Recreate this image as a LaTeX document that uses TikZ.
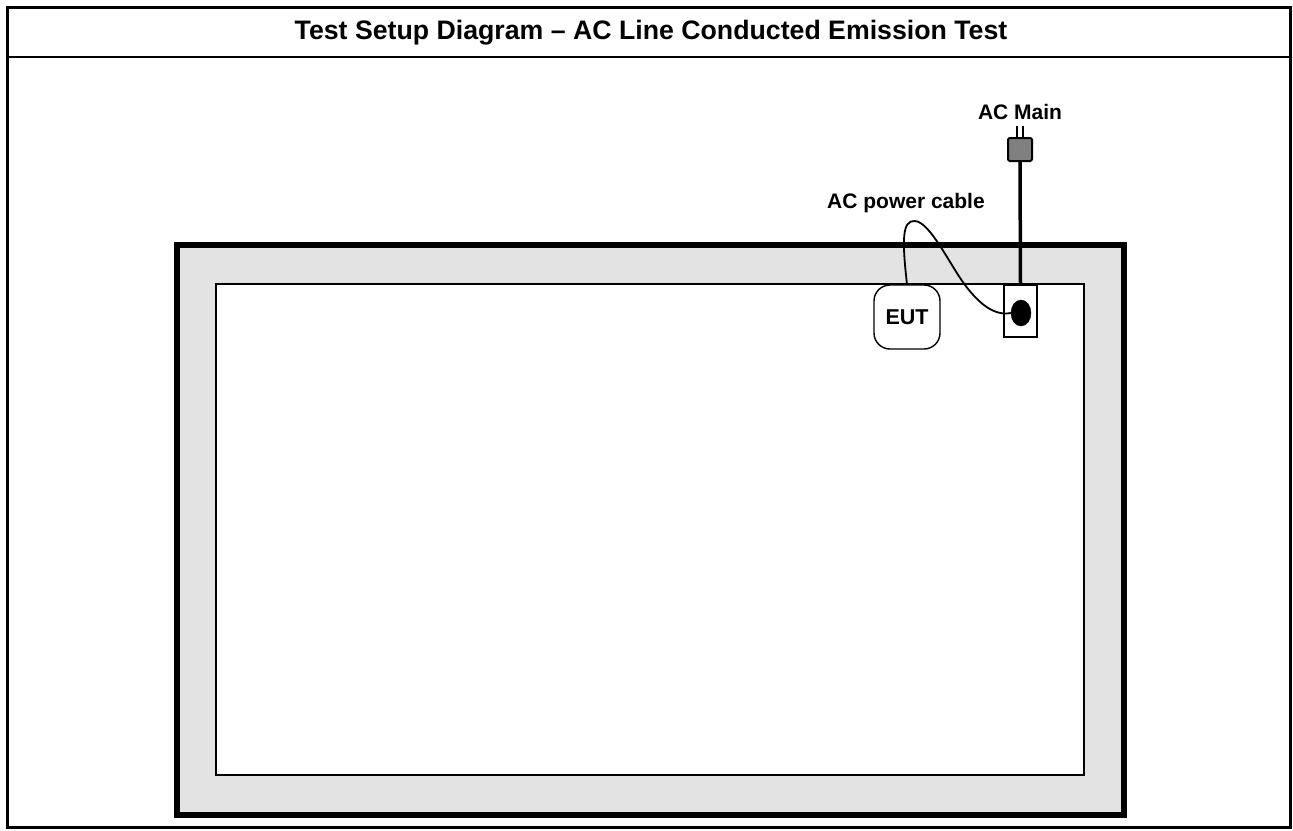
\documentclass[tikz,border=0pt]{standalone}
\usepackage{fontspec}
\setmainfont{Liberation Sans}
\usetikzlibrary{shapes.geometric}

\begin{document}
\begin{tikzpicture}[
  x=1pt, y=1pt,
  label/.style={font=\fontsize{21}{24}\selectfont\bfseries, inner sep=0pt},
  table/.style={draw, rectangle, line width=6.5pt, fill=black!11, minimum width=947pt,
                minimum height=570pt, outer sep=0pt},
  ground/.style={draw, rectangle, line width=1.8pt, fill=white, minimum width=868pt,
                 minimum height=491pt, outer sep=0pt},
  eutbox/.style={draw, rectangle, rounded corners=16pt, line width=1.4pt, fill=white,
                 minimum width=66pt, minimum height=64pt, font=\fontsize{21.5}{24}\selectfont\bfseries},
  outletbox/.style={draw, rectangle, line width=1.4pt, fill=white, minimum width=33pt,
                    minimum height=52pt, outer sep=0pt},
  cable/.style={line width=1.8pt},
  wire/.style={line width=3.5pt}
]
  \useasboundingbox (0,0) rectangle (1293,-830);
  % frame and title
  \draw[line width=3pt] (7,-7) rectangle (1290,-827);
  \draw[line width=2.5pt] (7,-57) -- (1290,-57);
  \node[font=\fontsize{26.7}{30}\selectfont\bfseries] (title) at (651,-33)
    {Test Setup Diagram -- AC Line Conducted Emission Test};
  % table
  \fill[black!35] (179.5,-247.5) rectangle (1126.5,-817.5);
  \node[table] (tbl) at (650.5,-530) {};
  \node[ground] (gnd) at (650,-529.5) {};
  % equipment
  \node[eutbox] (eut) at (907,-317) {EUT};
  \node[outletbox] (outlet) at (1020.5,-311) {};
  \node[draw, ellipse, fill=black, minimum width=20pt, minimum height=26pt,
        inner sep=0pt] (hole) at (1021,-313) {};
  \node[draw, rectangle, rounded corners=2pt, line width=2pt, fill=black!50,
        minimum width=24pt, minimum height=23pt, outer sep=0pt] (plug) at (1020,-149.5) {};
  \draw[line width=1.5pt] ([xshift=-3pt]plug.north) -- ++(0,12);
  \draw[line width=1.5pt] ([xshift=3pt]plug.north) -- ++(0,12);
  \node[label] (main) at (1020,-112) {AC Main};
  \node[label] (cablelbl) at (906,-203) {AC power cable};
  % connections
  \draw[wire] (plug.south) -- (outlet.north);
  \draw[cable] (eut.north) .. controls (902,-240) and (902,-220) .. (915,-221)
    .. controls (930,-222) and (950,-265) .. (965,-285)
    .. controls (980,-305) and (995,-316) .. (hole.west);
\end{tikzpicture}
\end{document}
